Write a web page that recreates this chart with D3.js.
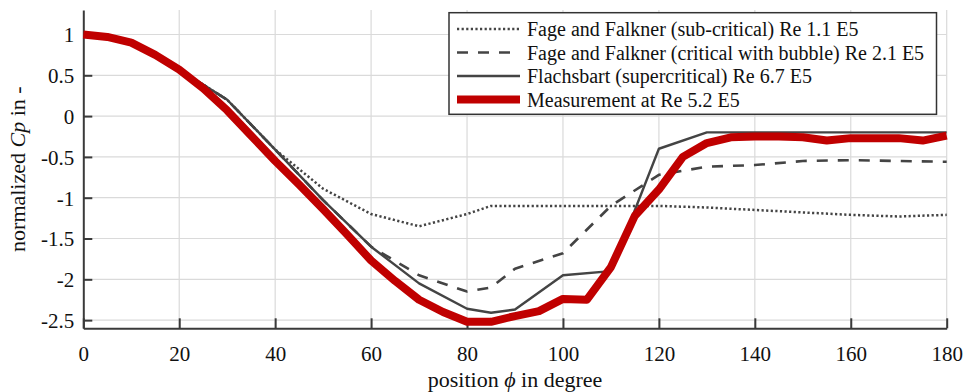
<!DOCTYPE html>
<html>
<head>
<meta charset="utf-8">
<script src="https://cdn.jsdelivr.net/npm/d3@7"></script>
<style>
  body { margin: 0; background: #fff; }
  text { font-family: "Liberation Serif", "Times New Roman", serif; fill: #111; }
</style>
</head>
<body>
<div id="viz"></div>
<script>
// data
var measAngles = [0, 5, 10, 15, 20, 25, 30, 35, 40, 45, 50, 55, 60, 65, 70, 75, 80, 85, 90,
  95, 100, 105, 110, 115, 120, 125, 130, 135, 140, 145, 150, 155, 160, 165, 170, 175, 180];
var measurement = [1.0, 0.97, 0.9, 0.75, 0.57, 0.34, 0.07, -0.24, -0.55, -0.84, -1.14, -1.45, -1.77,
  -2.02, -2.25, -2.4, -2.52, -2.52, -2.45, -2.39, -2.24, -2.25, -1.85, -1.22, -0.9, -0.5,
  -0.33, -0.26, -0.25, -0.25, -0.26, -0.3, -0.27, -0.27, -0.27, -0.3, -0.24];

var refAngles = [0, 10, 20, 30, 40, 50, 60, 70, 80, 85, 90, 100, 110, 120, 130, 140, 150, 160, 170, 180];
var subCritical = [1.0, 0.9, 0.57, 0.2, -0.41, -0.89, -1.2, -1.35, -1.2, -1.1, -1.1, -1.1, -1.1,
  -1.1, -1.12, -1.15, -1.18, -1.21, -1.23, -1.21];
var critical = [1.0, 0.9, 0.57, 0.2, -0.41, -1.03, -1.6, -1.95, -2.15, -2.1, -1.87, -1.68, -1.1,
  -0.72, -0.62, -0.6, -0.55, -0.54, -0.55, -0.56];
var flachsbart = [1.0, 0.9, 0.57, 0.2, -0.41, -1.03, -1.6, -2.05, -2.36, -2.41, -2.37, -1.95, -1.9,
  -0.4, -0.2, -0.2, -0.2, -0.2, -0.2, -0.2];

var xTicks = [0, 20, 40, 60, 80, 100, 120, 140, 160, 180];
var yTicks = [-2.5, -2, -1.5, -1, -0.5, 0, 0.5, 1];

var legendLabels = [
  "Fage and Falkner (sub-critical) Re 1.1 E5",
  "Fage and Falkner (critical with bubble) Re 2.1 E5",
  "Flachsbart (supercritical) Re 6.7 E5",
  "Measurement at Re 5.2 E5"
];

var width = 966, height = 392;
var plot = {left: 83.3, right: 946.7, top: 10, bottom: 328.3};

var svg = d3.select("#viz")
  .append("svg")
    .attr("width", width)
    .attr("height", height);

var x = d3.scaleLinear().domain([0, 180]).range([plot.left, plot.right]);
var y = d3.scaleLinear().domain([-2.6, 1.3]).range([plot.bottom, plot.top]);

// grid
svg.append("g")
  .selectAll("line")
  .data(xTicks.slice(1))
  .enter().append("line")
    .attr("x1", function(d) { return x(d); })
    .attr("x2", function(d) { return x(d); })
    .attr("y1", plot.top)
    .attr("y2", plot.bottom)
    .style("stroke", "#dadada")
    .style("stroke-width", 1.2);

svg.append("g")
  .selectAll("line")
  .data(yTicks)
  .enter().append("line")
    .attr("x1", plot.left)
    .attr("x2", plot.right)
    .attr("y1", function(d) { return y(d); })
    .attr("y2", function(d) { return y(d); })
    .style("stroke", "#dadada")
    .style("stroke-width", 1.2);

// axes, ticks pointing inwards, plain hyphen for minus
var xAxis = svg.append("g")
  .attr("transform", "translate(0," + plot.bottom + ")")
  .call(d3.axisBottom(x).tickValues(xTicks).tickSizeInner(-10).tickSizeOuter(0)
    .tickFormat(function(d) { return String(d); }));

var yAxis = svg.append("g")
  .attr("transform", "translate(" + plot.left + ",0)")
  .call(d3.axisLeft(y).tickValues(yTicks).tickSizeInner(-9).tickSizeOuter(0)
    .tickFormat(function(d) { return String(d); }));

[xAxis, yAxis].forEach(function(a) {
  a.select(".domain").style("stroke", "#3a3a3a").style("stroke-width", 2);
  a.selectAll(".tick line").style("stroke", "#3a3a3a").style("stroke-width", 2);
  a.selectAll("text")
    .style("font-family", "'Liberation Serif', serif")
    .style("font-size", "21px")
    .style("fill", "#111");
});
yAxis.selectAll("text").attr("x", -9).attr("dy", "0.35em");
xAxis.selectAll("text").attr("y", 12).attr("dy", "1em");

// the curves
var line = d3.line()
  .x(function(d) { return x(d[0]); })
  .y(function(d) { return y(d[1]); });

var series = [
  {angles: refAngles, values: subCritical, color: "#444", w: 2.5, dash: "2.2,2.4"},
  {angles: refAngles, values: critical, color: "#444", w: 2.6, dash: "11,10"},
  {angles: refAngles, values: flachsbart, color: "#444", w: 2.4, dash: null},
  {angles: measAngles, values: measurement, color: "#c00000", w: 8, dash: null}
];

svg.append("g")
  .selectAll("path")
  .data(series)
  .enter().append("path")
    .attr("d", function(s) { return line(s.angles.map(function(a, i) { return [a, s.values[i]]; })); })
    .style("fill", "none")
    .style("stroke", function(s) { return s.color; })
    .style("stroke-width", function(s) { return s.w; })
    .style("stroke-dasharray", function(s) { return s.dash; })
    .style("stroke-linejoin", "round");

// legend
var legend = svg.append("g");
legend.append("rect")
  .attr("x", 449).attr("y", 12.7)
  .attr("width", 487.5).attr("height", 101.6)
  .style("fill", "#fff")
  .style("stroke", "#333")
  .style("stroke-width", 1.5);

var rows = legend.selectAll("g.row")
  .data(series)
  .enter().append("g")
    .attr("class", "row")
    .attr("transform", function(d, i) { return "translate(0," + (36 + i * 23.5) + ")"; });

rows.append("line")
  .attr("x1", 457).attr("x2", 520)
  .attr("y1", -7).attr("y2", -7)
  .style("stroke", function(s) { return s.color; })
  .style("stroke-width", function(s) { return s.w; })
  .style("stroke-dasharray", function(s) { return s.dash; });

rows.append("text")
  .attr("x", 527)
  .style("font-size", "20px")
  .text(function(d, i) { return legendLabels[i]; });

// axis titles
svg.append("text")
  .attr("x", x(90))
  .attr("y", 387)
  .attr("text-anchor", "middle")
  .style("font-size", "22px")
  .html("position <tspan font-style='italic'>ϕ</tspan> in degree");

svg.append("text")
  .attr("transform", "translate(25," + ((plot.top + plot.bottom) / 2) + ") rotate(-90)")
  .attr("text-anchor", "middle")
  .style("font-size", "22px")
  .html("normalized <tspan font-style='italic'>Cp</tspan> in -");
</script>
</body>
</html>
